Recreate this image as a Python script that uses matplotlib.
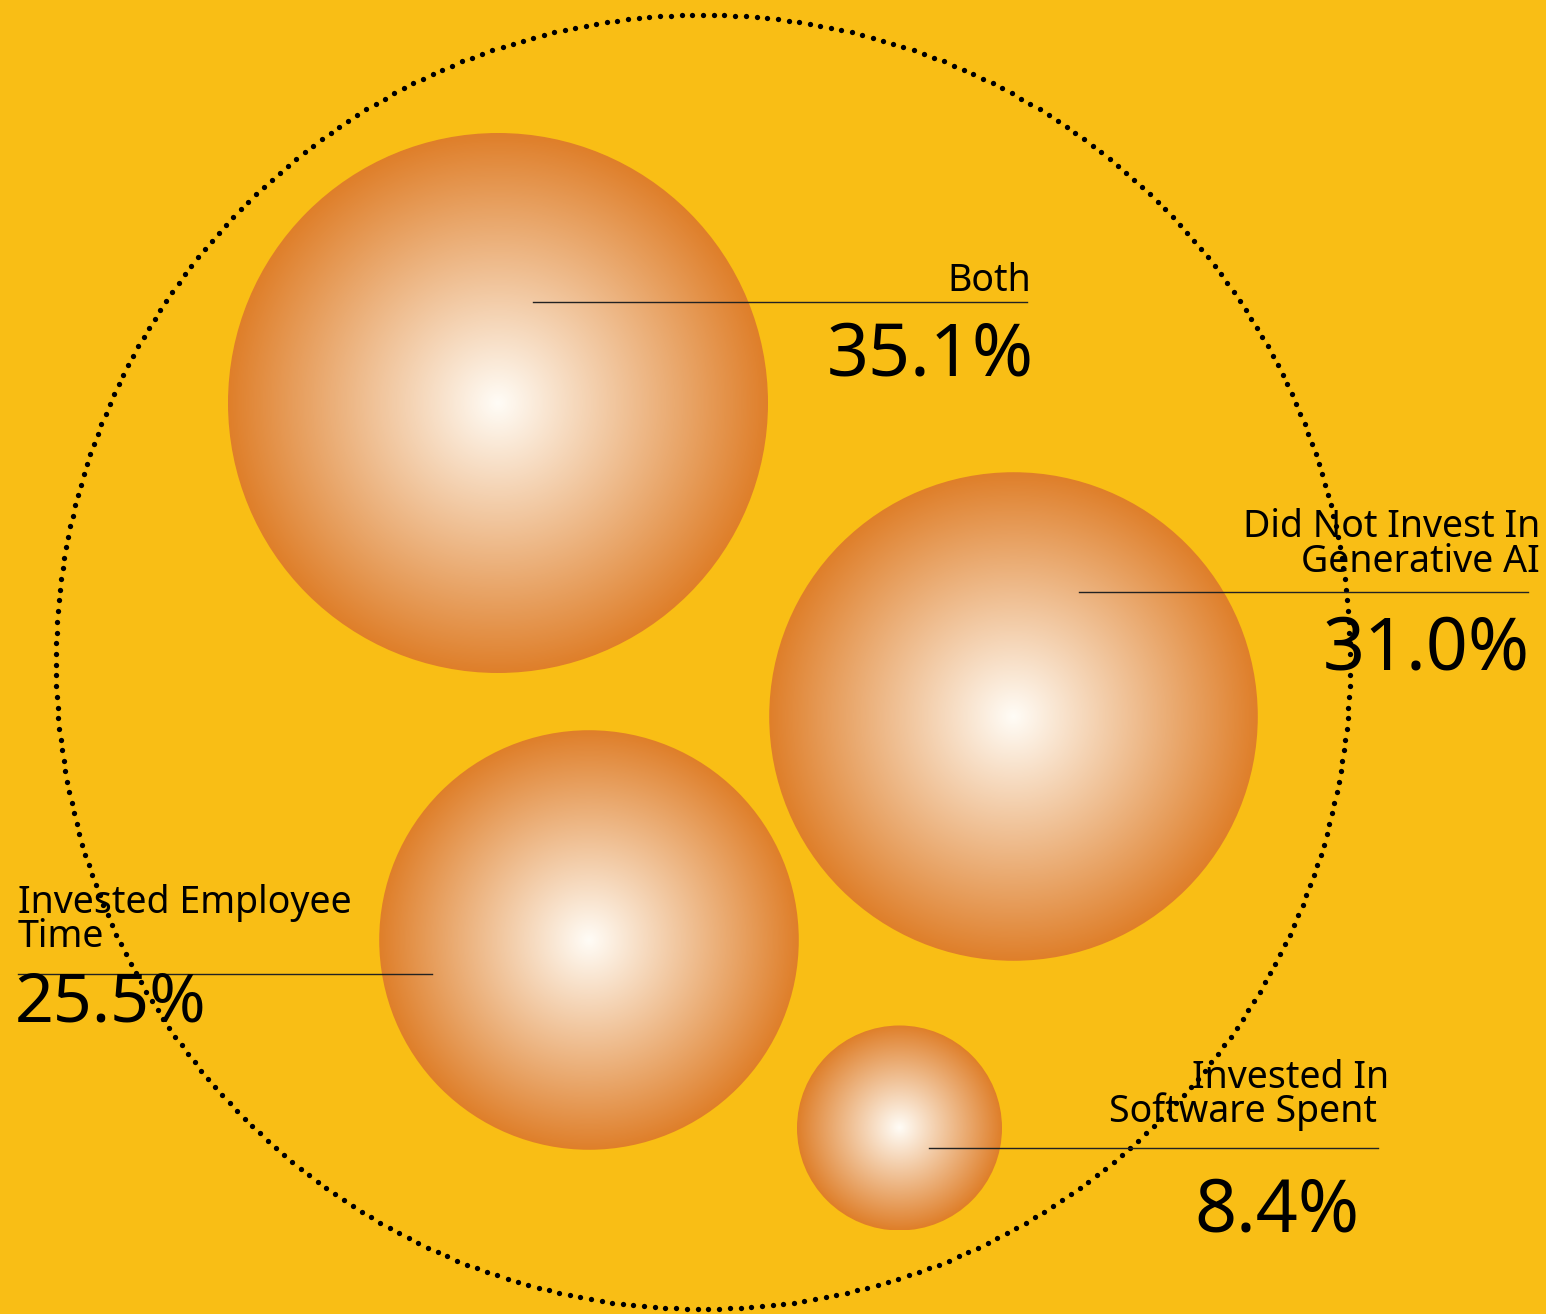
"""Investment split shown as shaded bubbles inside a dotted ring."""

import numpy as np
import matplotlib

matplotlib.use("Agg")
import matplotlib.pyplot as plt
from matplotlib.colors import LinearSegmentedColormap
from matplotlib.patches import Circle

plt.rcParams["font.family"] = ["Noto Sans", "DejaVu Sans"]

CATEGORIES = [
    "Both",
    "Did Not Invest In\nGenerative AI",
    "Invested Employee\nTime",
    "Invested In\nSoftware Spent",
]
SHARES = [35.1, 31.0, 25.5, 8.4]

# canvas in pixels, y grows downward
WIDTH, HEIGHT = 1546, 1314
BG = "#F9BE15"
EDGE = "#DF7F2A"
CORE = "#FFFCF6"

# packed bubble centres
CENTERS = [(498, 403), (1013.5, 716.5), (589, 940), (899.5, 1128)]
# linear radius scale: share -> px
R_DOMAIN = (8.4, 35.1)
R_RANGE = (102.5, 270.0)

RING_CENTER = (703, 662)
RING_RADIUS = 647

# label layout: per-line (x, baseline, ha), rule (x0, x1, y), value (x, baseline, ha, size)
LABEL_SIZE = 27
LABEL_LINES = [
    [(1031, 291, "right")],
    [(1540, 537, "right"), (1540, 572, "right")],
    [(18, 913, "left"), (18, 947, "left")],
    [(1389, 1088, "right"), (1377, 1122, "right")],
]
RULES = [(533, 1027, 302), (1079, 1528, 592), (18, 432, 974), (929, 1378, 1148)]
VALUE_POS = [
    (1034, 375, "right", 53),
    (1530, 669, "right", 53),
    (15, 1022, "left", 49),
    (1359, 1232, "right", 53),
]


def radius(v):
    slope = (R_RANGE[1] - R_RANGE[0]) / (R_DOMAIN[1] - R_DOMAIN[0])
    return R_RANGE[0] + (v - R_DOMAIN[0]) * slope


fig = plt.figure(figsize=(WIDTH / 100, HEIGHT / 100), dpi=100, facecolor=BG)
ax = fig.add_axes([0, 0, 1, 1])
ax.set_xlim(0, WIDTH)
ax.set_ylim(HEIGHT, 0)
ax.set_aspect("equal")
ax.axis("off")
ax.set_facecolor(BG)

cmap = LinearSegmentedColormap.from_list("glow", [CORE, EDGE])
grid = np.linspace(-1, 1, 600)
gx, gy = np.meshgrid(grid, grid)
dist = np.clip(np.hypot(gx, gy), 0, 1)

for (cx, cy), share in zip(CENTERS, SHARES):
    r = radius(share)
    disc = Circle((cx, cy), r, facecolor="none", edgecolor="none")
    ax.add_patch(disc)
    im = ax.imshow(
        dist,
        cmap=cmap,
        vmin=0,
        vmax=1,
        extent=(cx - r, cx + r, cy + r, cy - r),
        interpolation="bilinear",
        zorder=1,
    )
    im.set_clip_path(disc)

# dotted outer ring
n_dots = int(2 * np.pi * RING_RADIUS / 10.7)
theta = np.linspace(0, 2 * np.pi, n_dots, endpoint=False) - np.pi / 2
ax.plot(
    RING_CENTER[0] + RING_RADIUS * np.cos(theta),
    RING_CENTER[1] + RING_RADIUS * np.sin(theta),
    linestyle="none",
    marker="o",
    markersize=3.8,
    color="black",
    markeredgewidth=0,
    zorder=3,
)

for label, share, lines, rule, vpos in zip(CATEGORIES, SHARES, LABEL_LINES, RULES, VALUE_POS):
    for text, (x, y, ha) in zip(label.split("\n"), lines):
        ax.text(x, y, text, ha=ha, va="baseline", fontsize=LABEL_SIZE, color="black", zorder=4)
    x0, x1, y = rule
    ax.plot([x0, x1], [y, y], color="#222222", linewidth=1.0, zorder=4)
    vx, vy, vha, vsize = vpos
    ax.text(vx, vy, f"{share:.1f}%", ha=vha, va="baseline", fontsize=vsize, color="black", zorder=4)

fig.savefig("out.png", dpi=100, facecolor=BG)
